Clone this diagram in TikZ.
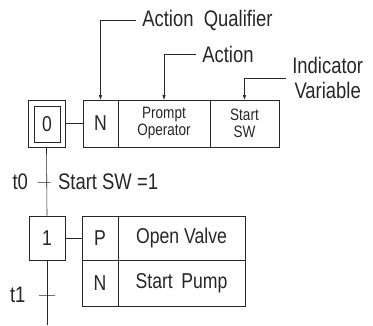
\documentclass[tikz,border=0pt]{standalone}
\usepackage{fontspec}
\setmainfont{Liberation Sans}[FakeStretch=0.82]
\usetikzlibrary{arrows.meta, positioning}

\begin{document}
\begin{tikzpicture}[
  x=1pt, y=-1pt, color=black!85,
  every path/.style={line width=0.6pt},
  stepbox/.style={rectangle, draw, minimum width=36pt, minimum height=44pt, inner sep=0pt, font=\fontsize{21.5}{23}\selectfont},
  cell/.style={rectangle, draw, outer sep=0pt, inner sep=0pt, minimum height=47pt, font=\fontsize{21.5}{23}\selectfont},
  small/.style={font=\fontsize{16.5}{17}\selectfont, align=center},
  lbl/.style={font=\fontsize{22.5}{25}\selectfont, inner sep=6pt, align=center},
  tick/.style={rectangle, draw, minimum width=14pt, minimum height=0pt, inner sep=0pt},
  leader/.style={-{Latex[length=5pt,width=3.5pt]}}
]
  \useasboundingbox (0,0) rectangle (373,325);

  % Initial step
  \node[stepbox, minimum width=37pt, minimum height=47pt] (s0) at (46.5,123.5) {};
  \node[stepbox, minimum width=26pt, minimum height=36pt] (s0i) at (47,124) {0};

  % Action block of step 0
  \node[cell, minimum width=35pt] (q0) at (100.5,123.5) {N};
  \node[cell, small, minimum width=92pt, right=0pt of q0] (c0) {Prompt\\Operator};
  \node[cell, small, minimum width=69pt, right=0pt of c0] (i0) {Start\\SW};
  \draw (s0.east) -- (q0.west);

  % Labels above
  \node[lbl, anchor=west] (aq) at (136,20) {Action~~Qualifier};
  \node[lbl, anchor=west] (act) at (196,54) {Action};
  \node[lbl, anchor=west] (ind) at (286,78) {Indicator\\Variable};
  \draw[leader] (aq.west) -| (q0.north);
  \draw[leader] (act.west) -| (c0.north);
  \draw[leader] (ind.west) -| (i0.north);

  % Step 1
  \node[stepbox] (s1) at (47,238) {1};
  \node[cell, minimum width=36pt, minimum height=44pt] (q1) at (100,238) {P};
  \node[cell, minimum width=127pt, minimum height=44pt, right=0pt of q1] (c1) {Open Valve};
  \node[cell, minimum width=36pt, minimum height=46pt, below=0pt of q1] (q2) {N};
  \node[cell, minimum width=127pt, minimum height=46pt, right=0pt of q2] (c2) {Start\, Pump};
  \draw (s1.east) -- (q1.west);

  % Transitions
  \node[tick, minimum width=13pt] (t0) at (44,182) {};
  \node[tick, minimum width=16pt] (t1) at (47,295) {};
  \node[lbl, inner sep=0pt, left=9pt of t0] {t0};
  \node[lbl, inner sep=0pt, anchor=west, right=7pt of t0] {Start SW =1};
  \node[lbl, inner sep=0pt, left=13pt of t1] {t1};
  \coordinate (end) at (47,325);
  \draw (s0.south) -- (s1.north);
  \draw (s1.south) -- (end);
\end{tikzpicture}
\end{document}
